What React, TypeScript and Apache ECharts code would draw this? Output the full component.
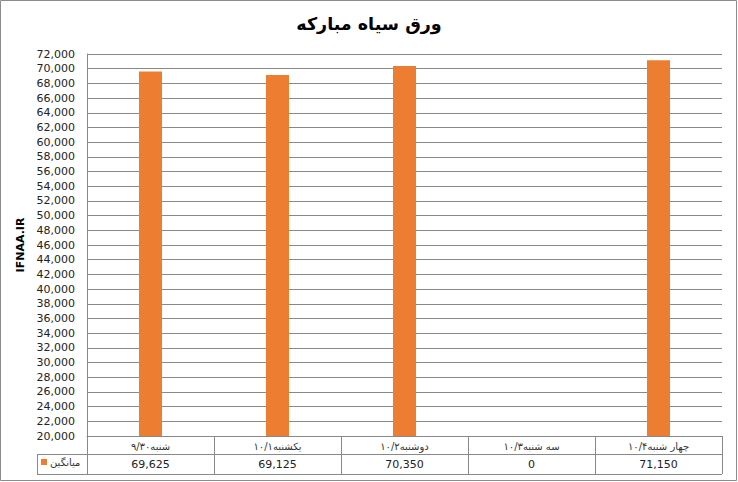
import React, { useEffect, useRef } from "react";
import * as echarts from "echarts";

const title = "ورق سیاه مبارکه";
const categories = ["شنبه۹/۳۰", "یکشنبه۱۰/۱", "دوشنبه۱۰/۲", "سه شنبه۱۰/۳", "چهار شنبه۱۰/۴"];
const seriesName = "میانگین";
const values = [69625, 69125, 70350, 0, 71150];
const yMin = 20000;
const yMax = 72000;
const yStep = 2000;
const yName = "IFNAA.IR";

const fmt = (v: number) => v.toLocaleString("en-US");

export default function App() {
  const ref = useRef<HTMLDivElement>(null);
  useEffect(() => {
    if (!ref.current) return;
    const chart = echarts.init(ref.current, null, { renderer: "svg" });
    const grey = "#898989";
    const font = "DejaVu Sans";
    chart.setOption({
      animation: false,
      backgroundColor: "#fff",
      title: {
        text: title,
        left: "center",
        top: 10,
        textStyle: { fontFamily: font, fontSize: 17.5, fontWeight: "bold", color: "#000" },
      },
      legend: {
        left: 37,
        top: 457,
        icon: "rect",
        itemWidth: 6,
        itemHeight: 6,
        itemGap: 4,
        padding: [0, 0, 0, 4],
        textStyle: { fontFamily: font, fontSize: 10, color: "#333", padding: [0, 0, 0, -2] },
        data: [seriesName],
      },
      grid: { left: 87, right: 16, top: 54, bottom: 46, containLabel: false },
      xAxis: [
        {
          type: "category",
          data: categories,
          axisLine: { show: true, lineStyle: { color: grey } },
          axisTick: { show: true, length: 38, interval: 0, lineStyle: { color: grey } },
          axisLabel: { interval: 0, margin: 5, fontFamily: font, fontSize: 10, color: "#333" },
        },
        {
          type: "category",
          position: "bottom",
          offset: 18,
          data: categories,
          axisLine: { show: false },
          axisTick: { show: false },
          axisLabel: {
            interval: 0,
            margin: 5,
            fontFamily: font,
            fontSize: 11,
            color: "#222",
            formatter: (_v: string, i: number) => fmt(values[i]),
          },
        },
      ],
      yAxis: {
        type: "value",
        min: yMin,
        max: yMax,
        interval: yStep,
        name: yName,
        nameLocation: "middle",
        nameGap: 60,
        nameTextStyle: { fontFamily: font, fontSize: 11, fontWeight: "bold", color: "#000" },
        axisLine: { show: true, lineStyle: { color: grey } },
        axisTick: { show: false },
        axisLabel: { margin: 12, fontFamily: font, fontSize: 11, color: "#222", formatter: (v: number) => fmt(v) },
        splitLine: { show: true, lineStyle: { color: grey } },
      },
      series: [
        {
          type: "bar",
          name: seriesName,
          data: values,
          barWidth: 23,
          clip: true,
          itemStyle: { color: "#ED7D31" },
        },
      ],
      graphic: [
        { type: "line", shape: { x1: 37, y1: 454.5, x2: 722, y2: 454.5 }, style: { stroke: grey, lineWidth: 1 } },
        { type: "line", shape: { x1: 37, y1: 474.5, x2: 722, y2: 474.5 }, style: { stroke: grey, lineWidth: 1 } },
        { type: "line", shape: { x1: 37.5, y1: 454, x2: 37.5, y2: 475 }, style: { stroke: grey, lineWidth: 1 } },
        { type: "rect", shape: { x: 0.5, y: 0.5, width: 736, height: 480 }, style: { fill: "none", stroke: "#8c8c8c", lineWidth: 1 } },
      ],
    });
    return () => chart.dispose();
  }, []);
  return <div ref={ref} style={{ position: "fixed", left: 0, top: 0, width: 738, height: 482 }} />;
}
